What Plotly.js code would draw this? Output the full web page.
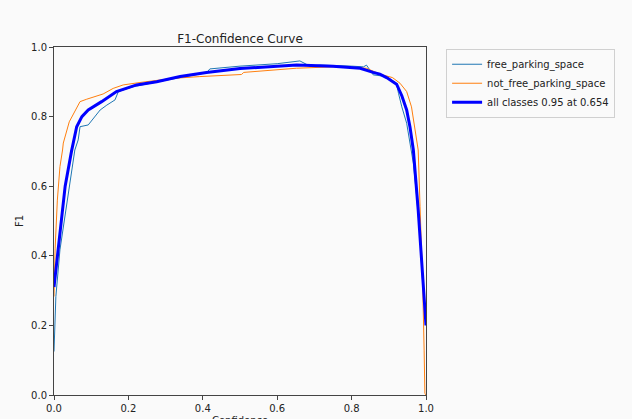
<!DOCTYPE html>
<html>
<head>
<meta charset="utf-8">
<script src="https://cdn.plot.ly/plotly-3.0.1.min.js"></script>
<style>html,body{margin:0;padding:0;background:#fafafa;}#chart{width:632px;height:419px;}</style>
</head>
<body>
<div id="chart"></div>
<script>
// free_parking_space
const freeConf = [0, 0.005, 0.016, 0.03, 0.043, 0.056, 0.065, 0.07, 0.092, 0.11, 0.124, 0.142, 0.164, 0.173, 0.213, 0.303, 0.392, 0.41, 0.419, 0.5, 0.6, 0.661, 0.688, 0.715, 0.8, 0.832, 0.84, 0.858, 0.894, 0.921, 0.926, 0.935, 0.948, 0.957, 0.966, 0.975, 0.984, 0.991, 0.997, 1.0];
const freeF1   = [0.125, 0.283, 0.417, 0.52, 0.608, 0.704, 0.733, 0.771, 0.776, 0.8, 0.819, 0.833, 0.848, 0.872, 0.886, 0.905, 0.924, 0.926, 0.937, 0.945, 0.952, 0.960, 0.945, 0.948, 0.945, 0.943, 0.948, 0.92, 0.915, 0.895, 0.867, 0.828, 0.781, 0.723, 0.666, 0.57, 0.455, 0.321, 0.24, 0.22];
// not_free_parking_space
const notFreeConf = [0, 0.003, 0.009, 0.016, 0.023, 0.025, 0.041, 0.07, 0.088, 0.106, 0.132, 0.159, 0.186, 0.231, 0.321, 0.392, 0.504, 0.51, 0.652, 0.751, 0.84, 0.876, 0.91, 0.93, 0.948, 0.961, 0.97, 0.979, 0.984, 0.991, 0.995, 0.997, 1.0];
const notFreeF1   = [0.283, 0.42, 0.56, 0.656, 0.704, 0.724, 0.785, 0.843, 0.85, 0.857, 0.865, 0.881, 0.891, 0.898, 0.91, 0.915, 0.921, 0.927, 0.939, 0.943, 0.939, 0.922, 0.912, 0.896, 0.872, 0.828, 0.771, 0.704, 0.541, 0.322, 0.129, 0.005, 0.0];
// all classes
const allConf = [0, 0.005, 0.012, 0.021, 0.03, 0.047, 0.061, 0.075, 0.092, 0.128, 0.168, 0.222, 0.276, 0.339, 0.41, 0.5, 0.58, 0.652, 0.75, 0.823, 0.858, 0.876, 0.894, 0.921, 0.935, 0.948, 0.957, 0.966, 0.979, 0.988, 0.997, 1.0];
const allF1   = [0.31, 0.36, 0.42, 0.51, 0.60, 0.70, 0.771, 0.80, 0.819, 0.843, 0.872, 0.891, 0.900, 0.915, 0.927, 0.938, 0.943, 0.948, 0.945, 0.939, 0.927, 0.922, 0.912, 0.893, 0.86, 0.819, 0.77, 0.704, 0.532, 0.378, 0.22, 0.20];

const seriesNames = ["free_parking_space", "not_free_parking_space", "all classes 0.95 at 0.654"];
const chartTitle = "F1-Confidence Curve";
const xLabel = "Confidence";
const yLabel = "F1";

const font = "DejaVu Sans, sans-serif";
const traces = [
  {x: freeConf, y: freeF1, name: seriesNames[0], mode: "lines", line: {color: "#1f77b4", width: 1}},
  {x: notFreeConf, y: notFreeF1, name: seriesNames[1], mode: "lines", line: {color: "#ff7f0e", width: 1}},
  {x: allConf, y: allF1, name: seriesNames[2], mode: "lines", line: {color: "#0000ff", width: 3}}
];
const axisCommon = {
  range: [0, 1], showgrid: false, zeroline: false,
  showline: true, mirror: true, linecolor: "#444", linewidth: 1,
  ticks: "outside", ticklen: 4, tickwidth: 1, tickcolor: "#444",
  tickformat: ".1f", dtick: 0.2, tick0: 0,
  tickfont: {family: font, size: 10, color: "#222"},
  automargin: false
};
const layout = {
  width: 632, height: 419,
  margin: {l: 54, r: 206, t: 47, b: 24},
  paper_bgcolor: "#fafafa", plot_bgcolor: "#fafafa",
  font: {family: font, color: "#222"},
  title: {text: chartTitle, font: {family: font, size: 12, color: "#222"}, x: 0.5, xref: "paper", y: 1, yref: "paper", yanchor: "bottom", pad: {b: 4}},
  xaxis: Object.assign({}, axisCommon),
  yaxis: Object.assign({}, axisCommon, {title: {text: yLabel, font: {family: font, size: 10}, standoff: 5}}),
  annotations: [{text: xLabel, xref: "paper", yref: "paper", x: 0.5, y: 0, xanchor: "center", yanchor: "top", yshift: -18,
                 showarrow: false, font: {family: font, size: 10, color: "#222"}}],
  showlegend: true,
  legend: {x: 1.054, y: 0.995, xanchor: "left", yanchor: "top", bgcolor: "#fafafa", bordercolor: "#d0d0d0", borderwidth: 1,
           font: {family: font, size: 10, color: "#222"}, tracegroupgap: 0, itemwidth: 30}
};
Plotly.newPlot("chart", traces, layout, {displayModeBar: false, staticPlot: true});
</script>
</body>
</html>
